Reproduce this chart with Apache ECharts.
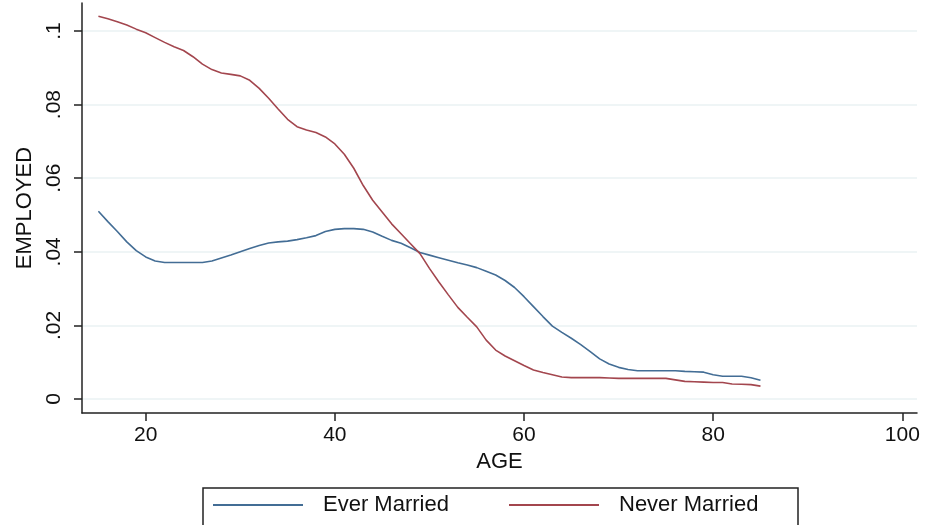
<!DOCTYPE html>
<html>
<head>
<meta charset="utf-8">
<script src="https://cdn.jsdelivr.net/npm/echarts@6/dist/echarts.min.js"></script>
<style>
  html, body { margin: 0; padding: 0; background: #fff; }
  #chart { width: 927px; height: 525px; }
</style>
</head>
<body>
<div id="chart"></div>
<script>
// Smoothed employment share by age, split by marital status
const ages = [15, 16, 17, 18, 19, 20, 21, 22, 23, 24, 25, 26, 27, 28, 29, 30,
  31, 32, 33, 34, 35, 36, 37, 38, 39, 40, 41, 42, 43, 44, 45, 46, 47, 48, 49, 50,
  51, 52, 53, 54, 55, 56, 57, 58, 59, 60, 61, 62, 63, 64, 65, 66, 67, 68, 69, 70,
  71, 72, 73, 74, 75, 76, 77, 78, 79, 80, 81, 82, 83, 84, 85];

const everMarried = [0.0510, 0.0482, 0.0455, 0.0427, 0.0403, 0.0386, 0.0375, 0.0371,
  0.0371, 0.0371, 0.0371, 0.0371, 0.0375, 0.0383, 0.0391, 0.0400, 0.0409, 0.0417,
  0.0424, 0.0427, 0.0429, 0.0433, 0.0438, 0.0444, 0.0455, 0.0461, 0.0463, 0.0463,
  0.0461, 0.0454, 0.0442, 0.0431, 0.0423, 0.0411, 0.0398, 0.0391, 0.0384, 0.0377,
  0.0370, 0.0364, 0.0357, 0.0347, 0.0337, 0.0322, 0.0303, 0.0278, 0.0251, 0.0224,
  0.0198, 0.0181, 0.0165, 0.0148, 0.0129, 0.0109, 0.0095, 0.0086, 0.0080, 0.0077,
  0.0077, 0.0077, 0.0077, 0.0077, 0.0075, 0.0074, 0.0073, 0.0066, 0.0062, 0.0062,
  0.0062, 0.0058, 0.0051];

const neverMarried = [0.1040, 0.1033, 0.1025, 0.1016, 0.1005, 0.0995, 0.0982, 0.0969,
  0.0957, 0.0947, 0.0930, 0.0910, 0.0895, 0.0886, 0.0882, 0.0878, 0.0866, 0.0844,
  0.0817, 0.0788, 0.0760, 0.0740, 0.0731, 0.0724, 0.0712, 0.0693, 0.0665, 0.0627,
  0.0580, 0.0540, 0.0508, 0.0476, 0.0449, 0.0422, 0.0395, 0.0355, 0.0318, 0.0283,
  0.0249, 0.0222, 0.0196, 0.0160, 0.0133, 0.0117, 0.0104, 0.0091, 0.0079, 0.0072,
  0.0066, 0.0060, 0.0058, 0.0058, 0.0058, 0.0058, 0.0057, 0.0056, 0.0056, 0.0056,
  0.0056, 0.0056, 0.0056, 0.0052, 0.0048, 0.0047, 0.0046, 0.0045, 0.0045, 0.0041,
  0.0040, 0.0039, 0.0035];

const xTicks = [20, 40, 60, 80, 100];
const yTicks = [0, 0.02, 0.04, 0.06, 0.08, 0.1];
const yTickText = ['0', '.02', '.04', '.06', '.08', '.1'];

const seriesNames = ['Ever Married', 'Never Married'];
const seriesColors = ['#436d95', '#a3464e'];

const pairs = (ys) => ages.map((a, i) => [a, ys[i]]);

const FONT = '"Liberation Sans", Arial, sans-serif';

const chart = echarts.init(document.getElementById('chart'), null, { renderer: 'canvas' });

chart.setOption({
  animation: false,
  backgroundColor: '#ffffff',
  grid: { left: 82, right: 10, top: 3, bottom: 112, containLabel: false },
  xAxis: {
    type: 'value',
    min: 13.265,
    max: 101.55,
    name: 'AGE',
    nameLocation: 'middle',
    nameGap: 30,
    nameTextStyle: { fontFamily: FONT, fontSize: 22, color: '#111' },
    axisLine: { show: true, onZero: false, lineStyle: { color: '#222', width: 1.5 } },
    axisTick: { show: true, length: 8, customValues: xTicks, lineStyle: { color: '#222', width: 1.5 } },
    axisLabel: {
      customValues: xTicks, margin: 12,
      fontFamily: FONT, fontSize: 21, color: '#111'
    },
    splitLine: { show: false }
  },
  yAxis: {
    type: 'value',
    min: -0.0038,
    max: 0.1076,
    name: 'EMPLOYED',
    nameLocation: 'middle',
    nameGap: 43,
    nameRotate: 90,
    nameTextStyle: { fontFamily: FONT, fontSize: 22, color: '#111' },
    axisLine: { show: true, onZero: false, lineStyle: { color: '#222', width: 1.5 } },
    axisTick: { show: true, length: 8, customValues: yTicks, lineStyle: { color: '#222', width: 1.5 } },
    axisLabel: {
      customValues: yTicks, rotate: 90, margin: 17,
      fontFamily: FONT, fontSize: 21, color: '#111',
      formatter: (v) => {
        const k = yTicks.findIndex((t) => Math.abs(t - v) < 1e-9);
        return k >= 0 ? yTickText[k] : '';
      }
    },
    splitLine: { show: true, customValues: yTicks, lineStyle: { color: '#eaf2f3', width: 1.5 } }
  },
  legend: {
    data: seriesNames,
    left: 203,
    top: 488,
    orient: 'horizontal',
    icon: 'rect',
    itemWidth: 90,
    itemHeight: 2,
    itemGap: 26,
    padding: [6, 19, 30, 10],
    borderColor: '#222',
    borderWidth: 1.5,
    backgroundColor: '#fff',
    textStyle: {
      fontFamily: FONT, fontSize: 22, color: '#111',
      lineHeight: 22, width: 160, padding: [0, 0, 0, 15]
    }
  },
  series: [
    {
      name: seriesNames[0], type: 'line', data: pairs(everMarried),
      symbol: 'none', showSymbol: false, smooth: false,
      lineStyle: { color: seriesColors[0], width: 1.6 },
      itemStyle: { color: seriesColors[0] }
    },
    {
      name: seriesNames[1], type: 'line', data: pairs(neverMarried),
      symbol: 'none', showSymbol: false, smooth: false,
      lineStyle: { color: seriesColors[1], width: 1.6 },
      itemStyle: { color: seriesColors[1] }
    }
  ]
});
</script>
</body>
</html>
